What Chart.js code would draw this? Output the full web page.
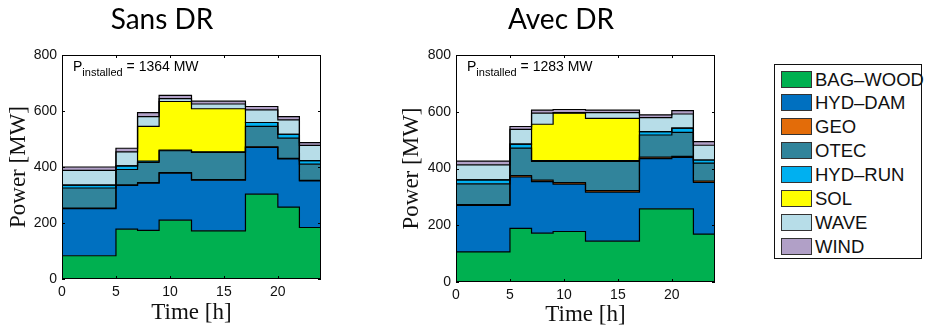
<!DOCTYPE html>
<html>
<head>
<meta charset="utf-8">
<script src="https://cdn.jsdelivr.net/npm/chart.js@4.4.1/dist/chart.umd.min.js"></script>
<style>
  body { margin: 0; background: #fff; width: 927px; height: 326px; position: relative; overflow: hidden; }
  canvas { position: absolute; top: 0; }
  #legende { position: absolute; left: 774px; top: 64px; width: 148px; height: 195px; border: 1px solid #111; box-sizing: border-box; background: #fff; }
  .ligne { position: absolute; left: 6px; height: 17px; font: 18.5px "Liberation Sans", Arial, sans-serif; line-height: 17px; color: #111; white-space: nowrap; }
  .carre { position: absolute; left: 0; top: 0; width: 31px; height: 17px; box-sizing: border-box; border: 1px solid #333; }
  .ligne span { position: absolute; left: 34px; top: 0; }
</style>
</head>
<body>
<canvas id="sans-dr" width="390" height="326" style="left:0"></canvas>
<canvas id="avec-dr" width="370" height="326" style="left:390px"></canvas>
<div id="legende"></div>
<script>
// Début de chaque palier horaire (le dernier point ferme la courbe à 24 h)
const heures = [0, 5, 7, 9, 12, 17, 20, 22, 24];
const sources = ['BAG–WOOD', 'HYD–DAM', 'GEO', 'OTEC', 'HYD–RUN', 'SOL', 'WAVE', 'WIND'];
const couleurs = ['#00b050', '#0070c0', '#e36c09', '#31849b', '#00b0f0', '#ffff00', '#b7dde8', '#b1a0c7'];
const ticksY = [0, 200, 400, 600, 800];
const ticksX = [0, 5, 10, 15, 20];

// Production par palier (MW) - sans DR
const sansBagWood = [83, 178, 174, 210, 172, 303, 257, 184];
const sansHydDam  = [168, 156, 168, 168, 181, 167, 172, 166];
const sansGeo     = [2, 2, 2, 2, 2, 2, 2, 2];
const sansOtec    = [72, 55, 72, 78, 97, 73, 72, 58];
const sansHydRun  = [10, 13, 5, 2, 2, 14, 14, 13];
const sansSol     = [0, 0, 124, 174, 154, 0, 0, 0];
const sansWave    = [53, 50, 35, 10, 17, 45, 51, 54];
const sansWind    = [12, 13, 14, 12, 10, 12, 12, 10];

// Production par palier (MW) - avec DR
const avecBagWood = [106, 189, 172, 178, 144, 258, 258, 169];
const avecHydDam  = [164, 181, 182, 167, 173, 177, 181, 182];
const avecGeo     = [3, 5, 5, 5, 5, 5, 4, 5];
const avecOtec    = [73, 97, 66, 75, 103, 78, 84, 63];
const avecHydRun  = [14, 14, 3, 3, 3, 12, 15, 11];
const avecSol     = [0, 0, 128, 167, 149, 0, 0, 0];
const avecWave    = [53, 52, 39, 2, 20, 49, 50, 52];
const avecWind    = [13, 10, 11, 11, 9, 10, 12, 13];

const policeTicks = '"Liberation Sans", Arial, sans-serif';
const policeSerif = '"Liberation Serif", "DejaVu Serif", serif';

function construireDatasets(series) {
    return series.map((valeurs, i) => ({
        label: sources[i],
        data: heures.map((h, k) => ({ x: h, y: valeurs[Math.min(k, valeurs.length - 1)] })),
        stepped: true,
        fill: i === 0 ? 'origin' : '-1',
        backgroundColor: couleurs[i],
        borderColor: '#000',
        borderWidth: 1.2,
        pointRadius: 0
    }));
}

// Cadre, petits ticks intérieurs, P_installed et titre du panneau
const cadrePlugin = {
    id: 'cadre',
    afterDraw(chart, args, opts) {
        const { ctx, chartArea: a, scales: { x, y } } = chart;
        ctx.save();
        ctx.strokeStyle = '#000';
        ctx.lineWidth = 1;
        ctx.beginPath();
        ticksX.forEach(v => {
            const px = Math.round(x.getPixelForValue(v)) + 0.5;
            ctx.moveTo(px, a.bottom); ctx.lineTo(px, a.bottom - 3);
            ctx.moveTo(px, a.top); ctx.lineTo(px, a.top + 3);
        });
        ticksY.forEach(v => {
            const py = Math.round(y.getPixelForValue(v)) + 0.5;
            ctx.moveTo(a.left, py); ctx.lineTo(a.left + 3, py);
            ctx.moveTo(a.right, py); ctx.lineTo(a.right - 3, py);
        });
        ctx.stroke();
        ctx.strokeRect(a.left + 0.5, a.top + 0.5, a.width - 1, a.height - 1);

        ctx.fillStyle = '#000';
        ctx.textAlign = 'left';
        ctx.textBaseline = 'alphabetic';
        let px = a.left + 11;
        const py = a.top + 16;
        ctx.font = '14px ' + policeTicks;
        ctx.fillText('P', px, py);
        px += ctx.measureText('P').width;
        ctx.font = '11px ' + policeTicks;
        ctx.fillText('installed', px, py + 5);
        px += ctx.measureText('installed').width;
        ctx.font = '14px ' + policeTicks;
        ctx.fillText(' = ' + opts.puissance + ' MW', px, py);

        ctx.font = '28px Lato, sans-serif';
        ctx.textAlign = 'center';
        ctx.fillText(opts.titre, opts.titreX, 29);
        ctx.restore();
    }
};

function creerGraphe(id, series, cfg) {
    const ctx = document.getElementById(id).getContext('2d');
    return new Chart(ctx, {
        type: 'line',
        data: { datasets: construireDatasets(series) },
        plugins: [cadrePlugin],
        options: {
            responsive: false,
            animation: false,
            devicePixelRatio: 1,
            layout: { padding: { left: 0, right: cfg.droite, top: 55, bottom: 0 } },
            plugins: {
                legend: { display: false },
                tooltip: { enabled: false },
                filler: { drawTime: 'beforeDatasetsDraw' },
                cadre: { titre: cfg.titre, titreX: cfg.titreX, puissance: cfg.puissance }
            },
            scales: {
                x: {
                    type: 'linear',
                    min: 0, max: 24,
                    grid: { display: false, drawTicks: false },
                    border: { display: false },
                    afterBuildTicks: s => { s.ticks = ticksX.map(v => ({ value: v })); },
                    afterFit: s => { s.height = cfg.hautX; },
                    ticks: { padding: 5, color: '#111', font: { family: policeTicks, size: 14 }, maxRotation: 0 },
                    title: { display: true, text: 'Time [h]', color: '#111', font: { family: policeSerif, size: 23, lineHeight: 1 }, padding: { top: 0, bottom: cfg.padTitreX } }
                },
                y: {
                    stacked: true,
                    min: 0, max: 800,
                    grid: { display: false, drawTicks: false },
                    border: { display: false },
                    afterBuildTicks: s => { s.ticks = ticksY.map(v => ({ value: v })); },
                    afterFit: s => { s.width = cfg.largY; },
                    ticks: { padding: 5, color: '#111', font: { family: policeTicks, size: 14 } },
                    title: { display: true, text: 'Power [MW]', color: '#111', font: { family: policeSerif, size: 23, lineHeight: 1 }, padding: { top: cfg.padTitreY, bottom: 0 } }
                }
            }
        }
    });
}

creerGraphe('sans-dr',
    [sansBagWood, sansHydDam, sansGeo, sansOtec, sansHydRun, sansSol, sansWave, sansWind],
    { titre: 'Sans DR', titreX: 162, puissance: 1364, droite: 69, largY: 62, hautX: 47, padTitreY: 7, padTitreX: 2 });

creerGraphe('avec-dr',
    [avecBagWood, avecHydDam, avecGeo, avecOtec, avecHydRun, avecSol, avecWave, avecWind],
    { titre: 'Avec DR', titreX: 171, puissance: 1283, droite: 45, largY: 66, hautX: 44, padTitreY: 10, padTitreX: 0 });

// Légende commune
const legende = document.getElementById('legende');
sources.forEach((nom, i) => {
    const ligne = document.createElement('div');
    ligne.className = 'ligne';
    ligne.style.top = (5.5 + i * 23.9) + 'px';
    ligne.innerHTML = `<div class="carre" style="background:${couleurs[i]}"></div><span>${nom}</span>`;
    legende.appendChild(ligne);
});
</script>
</body>
</html>
